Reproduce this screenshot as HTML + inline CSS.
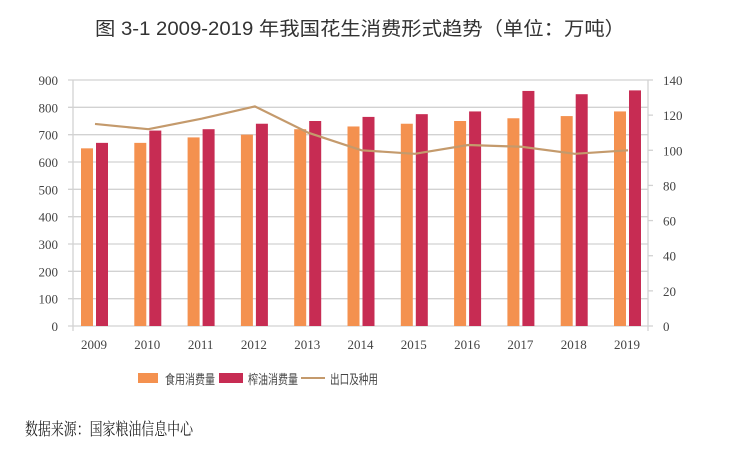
<!DOCTYPE html>
<html><head><meta charset="utf-8">
<style>
body{margin:0;background:#fff;width:729px;height:453px;overflow:hidden;}
svg{display:block;}
</style></head>
<body>
<svg id="chart" width="729" height="453" xmlns="http://www.w3.org/2000/svg">
<text x="95" y="35" textLength="530" lengthAdjust="spacingAndGlyphs" font-family="Liberation Sans, 'Noto Sans CJK SC', sans-serif" font-size="19" fill="#333">图 3-1  2009-2019 年我国花生消费形式趋势（单位：万吨）</text>
<g id="grid"></g><g id="bars"></g><g id="line"></g><g id="axes"></g>
<g>
<rect x="138" y="373" width="20" height="10" fill="#F4914F"/>
<text x="165" y="384" textLength="50" lengthAdjust="spacingAndGlyphs" font-family="'Noto Sans CJK SC', sans-serif" font-size="13" fill="#444">食用消费量</text>
<rect x="219" y="373" width="24" height="10" fill="#C72C53"/>
<text x="248" y="384" textLength="50" lengthAdjust="spacingAndGlyphs" font-family="'Noto Sans CJK SC', sans-serif" font-size="13" fill="#444">榨油消费量</text>
<line x1="301" y1="378" x2="325" y2="378" stroke="#C49A6C" stroke-width="2"/>
<text x="330" y="384" textLength="48" lengthAdjust="spacingAndGlyphs" font-family="'Noto Sans CJK SC', sans-serif" font-size="13" fill="#444">出口及种用</text>
</g>
<text x="25" y="435" textLength="168" lengthAdjust="spacingAndGlyphs" font-family="'Noto Serif CJK SC', serif" font-size="17" fill="#222">数据来源：国家粮油信息中心</text>
</svg>
<script>
const years=["2009","2010","2011","2012","2013","2014","2015","2016","2017","2018","2019"];
const foodUse=[650,670,690,700,720,730,740,750,760,768,785];
const oilUse=[670,715,720,740,750,765,775,785,860,848,862];
const exportSeed=[115,112,118,125,110,100,98,103,102,98,100];
const leftTicks=[0,100,200,300,400,500,600,700,800,900];
const rightTicks=[0,20,40,60,80,100,120,140];

const NS="http://www.w3.org/2000/svg";
const X0=73,X1=648,Y0=326,Y1=80;
const yL=v=>Y0-(v/900)*(Y0-Y1);
const yR=v=>Y0-(v/140)*(Y0-Y1);
const step=53.3;
const catX=i=>81+i*step;
function mk(tag,attrs,parent){const e=document.createElementNS(NS,tag);for(const k in attrs)e.setAttribute(k,attrs[k]);parent.appendChild(e);return e;}
const grid=document.getElementById('grid'),bars=document.getElementById('bars'),line=document.getElementById('line'),axes=document.getElementById('axes');
const tf="Liberation Serif, serif";
leftTicks.forEach(t=>{
  const g=mk('line',{x1:X0-5,x2:X1,y1:yL(t),y2:yL(t),stroke:'#d2d2d2','stroke-width':1.3},grid);
  
  
  const tx=mk('text',{x:58,y:yL(t)+5,'text-anchor':'end','font-family':tf,'font-size':13,fill:'#444'},axes);
  tx.textContent=t;
  
  
});
rightTicks.forEach(t=>{
  const tk=mk('line',{x1:X1,x2:X1+5,y1:yR(t),y2:yR(t),stroke:'#d2d2d2','stroke-width':1.3},axes);
  
  
  const tx=mk('text',{x:663,y:yR(t)+5,'font-family':tf,'font-size':13,fill:'#444'},axes);
  tx.textContent=t;
  
  
});
const la=mk('line',{x1:X0,x2:X0,y1:Y1,y2:Y0+5,stroke:'#d2d2d2','stroke-width':1.3},axes);


const ra=mk('line',{x1:X1,x2:X1,y1:Y1,y2:Y0+5,stroke:'#d2d2d2','stroke-width':1.3},axes);


years.forEach((y,i)=>{
  const x=catX(i);
  const b1=mk('rect',{x:x,y:yL(foodUse[i]),width:12,height:Y0-yL(foodUse[i]),fill:'#F4914F'},bars);
  
  
  const b2=mk('rect',{x:x+15,y:yL(oilUse[i]),width:12,height:Y0-yL(oilUse[i]),fill:'#C72C53'},bars);
  
  
  const tx=mk('text',{x:x+13,y:349,'text-anchor':'middle','font-family':tf,'font-size':13,fill:'#444'},axes);
  tx.textContent=y;
  
  
});
const pts=exportSeed.map((v,i)=>(catX(i)+14)+','+yR(v)).join(' ');
const pl=mk('polyline',{points:pts,fill:'none',stroke:'#C49A6C','stroke-width':2.2},line);


</script>
</body></html>
